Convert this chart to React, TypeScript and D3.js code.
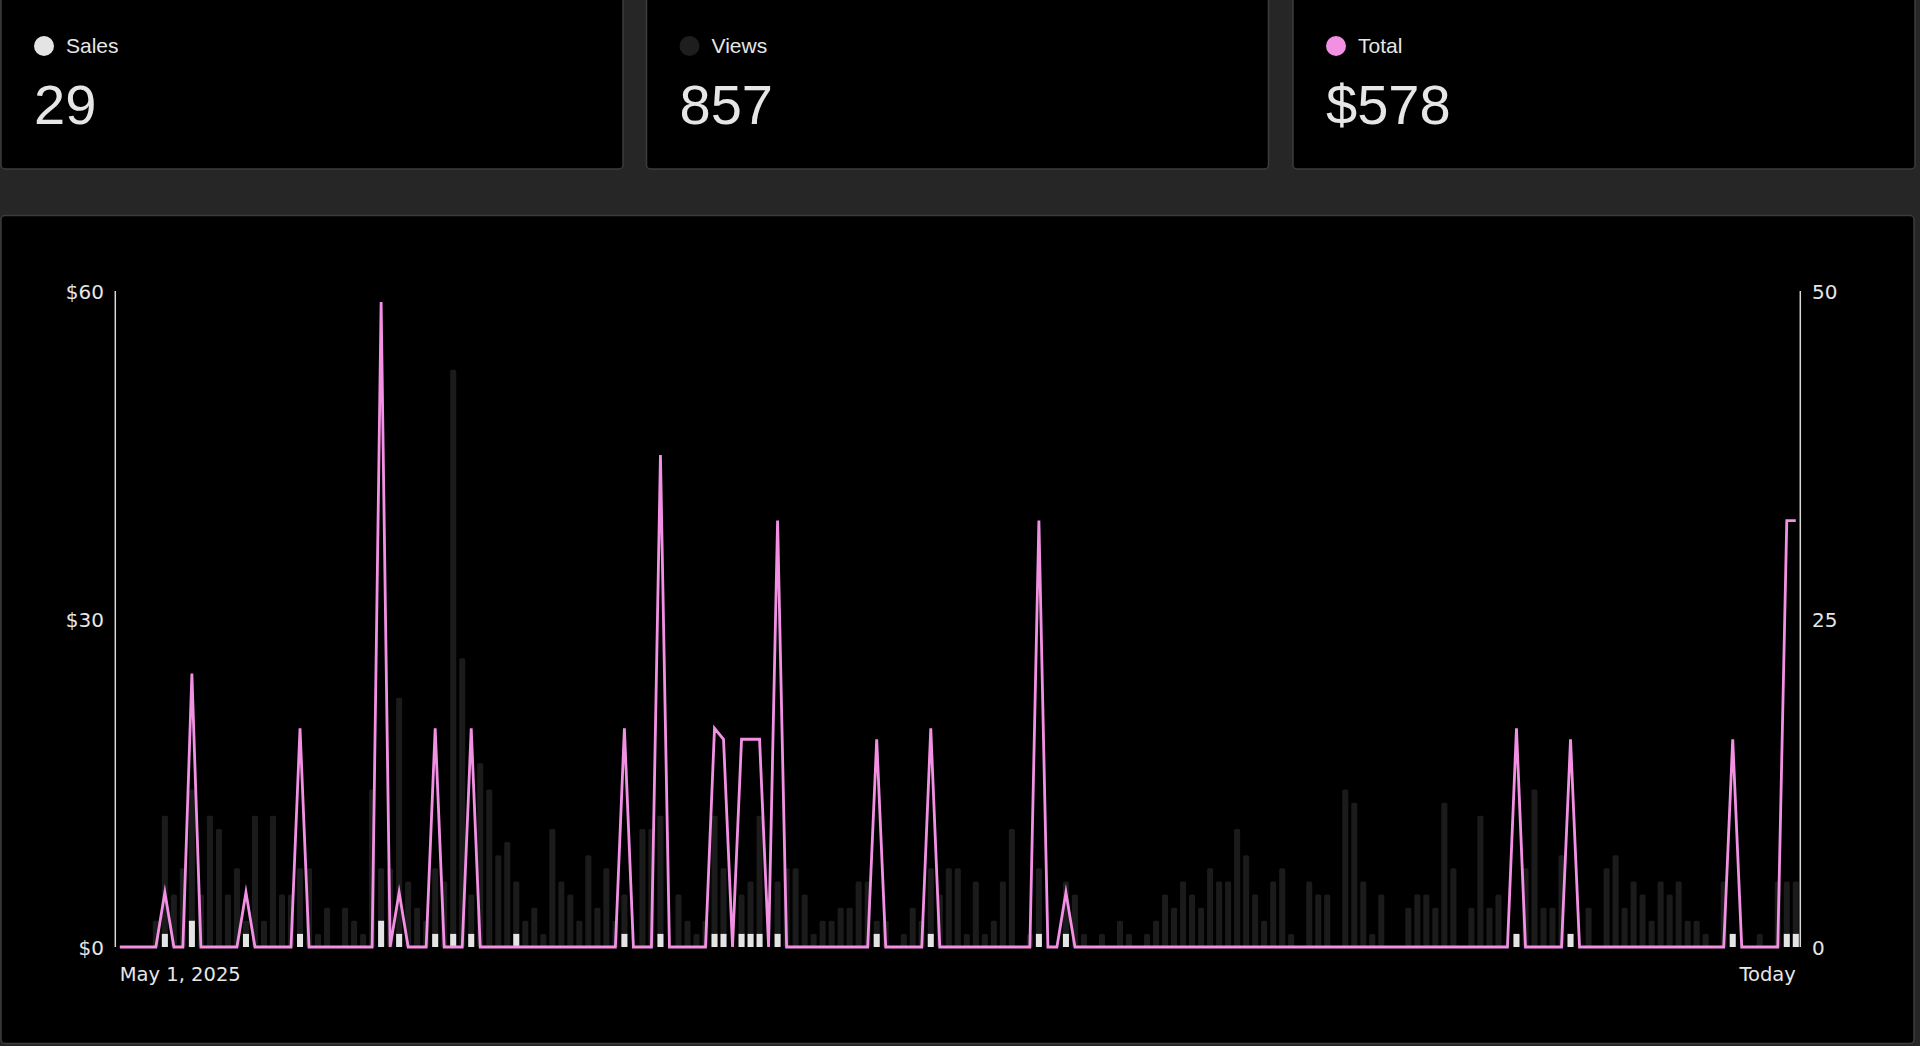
import React from "react";
import * as d3 from "d3";

const startDate = "May 1, 2025";
const endLabel = "Today";

// Daily views (right axis)
const views: number[] = [
  0, 0, 0, 0, 2, 10, 4, 6, 12, 4,
  10, 9, 4, 6, 2, 10, 2, 10, 4, 4,
  6, 6, 1, 3, 0, 3, 2, 1, 12, 6,
  6, 19, 5, 3, 2, 6, 5, 44, 22, 4,
  14, 12, 7, 8, 5, 2, 3, 1, 9, 5,
  4, 2, 7, 3, 6, 2, 4, 0, 9, 9,
  10, 0, 4, 2, 1, 2, 10, 6, 0, 4,
  5, 10, 0, 5, 6, 6, 4, 1, 2, 2,
  3, 3, 5, 5, 2, 2, 0, 1, 3, 2,
  6, 4, 6, 6, 1, 5, 1, 2, 5, 9,
  0, 1, 6, 0, 0, 5, 4, 1, 0, 1,
  0, 2, 1, 0, 1, 2, 4, 3, 5, 4,
  3, 6, 5, 5, 9, 7, 4, 2, 5, 6,
  1, 0, 5, 4, 4, 0, 12, 11, 5, 1,
  4, 0, 0, 3, 4, 4, 3, 11, 6, 0,
  3, 10, 3, 4, 0, 1, 6, 12, 3, 3,
  7, 1, 0, 3, 0, 6, 7, 3, 5, 4,
  2, 5, 4, 5, 2, 2, 1, 0, 5, 1,
  0, 0, 1, 0, 5, 5, 5,
];

// Daily sales count (right axis)
const sales: number[] = [
  0, 0, 0, 0, 0, 1, 0, 0, 2, 0,
  0, 0, 0, 0, 1, 0, 0, 0, 0, 0,
  1, 0, 0, 0, 0, 0, 0, 0, 0, 2,
  0, 1, 0, 0, 0, 1, 0, 1, 0, 1,
  0, 0, 0, 0, 1, 0, 0, 0, 0, 0,
  0, 0, 0, 0, 0, 0, 1, 0, 0, 0,
  1, 0, 0, 0, 0, 0, 1, 1, 0, 1,
  1, 1, 0, 1, 0, 0, 0, 0, 0, 0,
  0, 0, 0, 0, 1, 0, 0, 0, 0, 0,
  1, 0, 0, 0, 0, 0, 0, 0, 0, 0,
  0, 0, 1, 0, 0, 1, 0, 0, 0, 0,
  0, 0, 0, 0, 0, 0, 0, 0, 0, 0,
  0, 0, 0, 0, 0, 0, 0, 0, 0, 0,
  0, 0, 0, 0, 0, 0, 0, 0, 0, 0,
  0, 0, 0, 0, 0, 0, 0, 0, 0, 0,
  0, 0, 0, 0, 0, 1, 0, 0, 0, 0,
  0, 1, 0, 0, 0, 0, 0, 0, 0, 0,
  0, 0, 0, 0, 0, 0, 0, 0, 0, 1,
  0, 0, 0, 0, 0, 1, 1,
];

// Daily revenue in $ (left axis)
const totals: number[] = [
  0, 0, 0, 0, 0, 5, 0, 0, 25, 0,
  0, 0, 0, 0, 5, 0, 0, 0, 0, 0,
  20, 0, 0, 0, 0, 0, 0, 0, 0, 59,
  0, 5, 0, 0, 0, 20, 0, 0, 0, 20,
  0, 0, 0, 0, 0, 0, 0, 0, 0, 0,
  0, 0, 0, 0, 0, 0, 20, 0, 0, 0,
  45, 0, 0, 0, 0, 0, 20, 19, 0, 19,
  19, 19, 0, 39, 0, 0, 0, 0, 0, 0,
  0, 0, 0, 0, 19, 0, 0, 0, 0, 0,
  20, 0, 0, 0, 0, 0, 0, 0, 0, 0,
  0, 0, 39, 0, 0, 5, 0, 0, 0, 0,
  0, 0, 0, 0, 0, 0, 0, 0, 0, 0,
  0, 0, 0, 0, 0, 0, 0, 0, 0, 0,
  0, 0, 0, 0, 0, 0, 0, 0, 0, 0,
  0, 0, 0, 0, 0, 0, 0, 0, 0, 0,
  0, 0, 0, 0, 0, 20, 0, 0, 0, 0,
  0, 19, 0, 0, 0, 0, 0, 0, 0, 0,
  0, 0, 0, 0, 0, 0, 0, 0, 0, 19,
  0, 0, 0, 0, 0, 39, 39,
];

const leftTicks = [0, 30, 60];
const rightTicks = [0, 25, 50];

const cardLabels = ["Sales", "Views", "Total"];
const cardValues = ["29", "857", "$578"];

const W = 1920;
const H = 1046;
const BG = "#262626";
const CARD_STROKE = "#3c3c3c";
const PINK = "#f291e4";
const SALES_C = "#e4e4e4";
const VIEWS_C = "#1b1b1b";
const TEXT_C = "#e6e6e6";
const dotColors = [SALES_C, "#1e1e1e", PINK];

export default function App() {
  const plotL = 115.3;
  const plotR = 1800.3;
  const plotT = 291;
  const plotB = 947;

  const days = d3.range(views.length);
  const x = d3
    .scaleBand<number>()
    .domain(days)
    .range([plotL, plotR])
    .paddingInner(0.33)
    .paddingOuter(0.165);
  const bw = x.bandwidth();
  const cx = (i: number) => (x(i) as number) + bw / 2;

  const yL = d3.scaleLinear().domain([0, 60]).range([plotB, plotT]);
  const yR = d3.scaleLinear().domain([0, 50]).range([plotB, plotT]);

  const line = d3
    .line<number>()
    .x((_, i) => cx(i))
    .y((v) => yL(v));

  const cards = [1, 646.5, 1293];
  const cardW = 622;

  const axisFont = "'DejaVu Sans', sans-serif";
  const cardFont = "'Liberation Sans', Arial, sans-serif";

  return (
    <svg
      width={W}
      height={H}
      viewBox={`0 0 ${W} ${H}`}
      style={{ position: "fixed", left: 0, top: 0, display: "block" }}
    >
      <rect x={0} y={0} width={W} height={H} fill={BG} />

      {cards.map((cxp, k) => (
        <g key={k}>
          <rect
            x={cxp}
            y={-20}
            width={cardW}
            height={189}
            rx={4}
            fill="#000"
            stroke={CARD_STROKE}
            strokeWidth={1.5}
          />
          <circle cx={cxp + 43} cy={46} r={10} fill={dotColors[k]} />
          <text
            x={cxp + 65}
            y={53}
            fill={TEXT_C}
            fontFamily={cardFont}
            fontSize={21}
          >
            {cardLabels[k]}
          </text>
          <text
            x={cxp + 33}
            y={124}
            fill={TEXT_C}
            fontFamily={cardFont}
            fontSize={56}
          >
            {cardValues[k]}
          </text>
        </g>
      ))}

      <rect
        x={1}
        y={215.5}
        width={1913}
        height={828}
        rx={4}
        fill="#000"
        stroke={CARD_STROKE}
        strokeWidth={1.5}
      />

      {/* views bars */}
      <g>
        {views.map((v, i) =>
          v > 0 ? (
            <rect
              key={i}
              x={x(i)}
              y={yR(v)}
              width={bw}
              height={plotB - yR(v)}
              rx={1.5}
              fill={VIEWS_C}
            />
          ) : null
        )}
      </g>

      {/* sales bars */}
      <g>
        {sales.map((v, i) =>
          v > 0 ? (
            <rect
              key={i}
              x={x(i)}
              y={yR(v)}
              width={bw}
              height={plotB - yR(v)}
              fill={SALES_C}
            />
          ) : null
        )}
      </g>

      {/* axes */}
      <line x1={plotL} x2={plotL} y1={plotT} y2={plotB} stroke="#d8d8d8" strokeWidth={1.5} />
      <line x1={plotR} x2={plotR} y1={plotT} y2={plotB} stroke="#d8d8d8" strokeWidth={1.5} />

      <path
        d={line(totals) || ""}
        fill="none"
        stroke={PINK}
        strokeWidth={2.8}
        strokeLinejoin="miter"
        strokeMiterlimit={10}
      />

      {leftTicks.map((t) => (
        <text
          key={t}
          x={104}
          y={yL(t) + 7.5}
          textAnchor="end"
          fill={TEXT_C}
          fontFamily={axisFont}
          fontSize={20}
        >
          {`$${t}`}
        </text>
      ))}
      {rightTicks.map((t) => (
        <text
          key={t}
          x={1812}
          y={yR(t) + 7.5}
          textAnchor="start"
          fill={TEXT_C}
          fontFamily={axisFont}
          fontSize={20}
        >
          {t}
        </text>
      ))}

      <text
        x={cx(0)}
        y={981}
        textAnchor="start"
        fill={TEXT_C}
        fontFamily={axisFont}
        fontSize={19.5}
      >
        {startDate}
      </text>
      <text
        x={cx(views.length - 1)}
        y={981}
        textAnchor="end"
        fill={TEXT_C}
        fontFamily={axisFont}
        fontSize={19.5}
      >
        {endLabel}
      </text>
    </svg>
  );
}
